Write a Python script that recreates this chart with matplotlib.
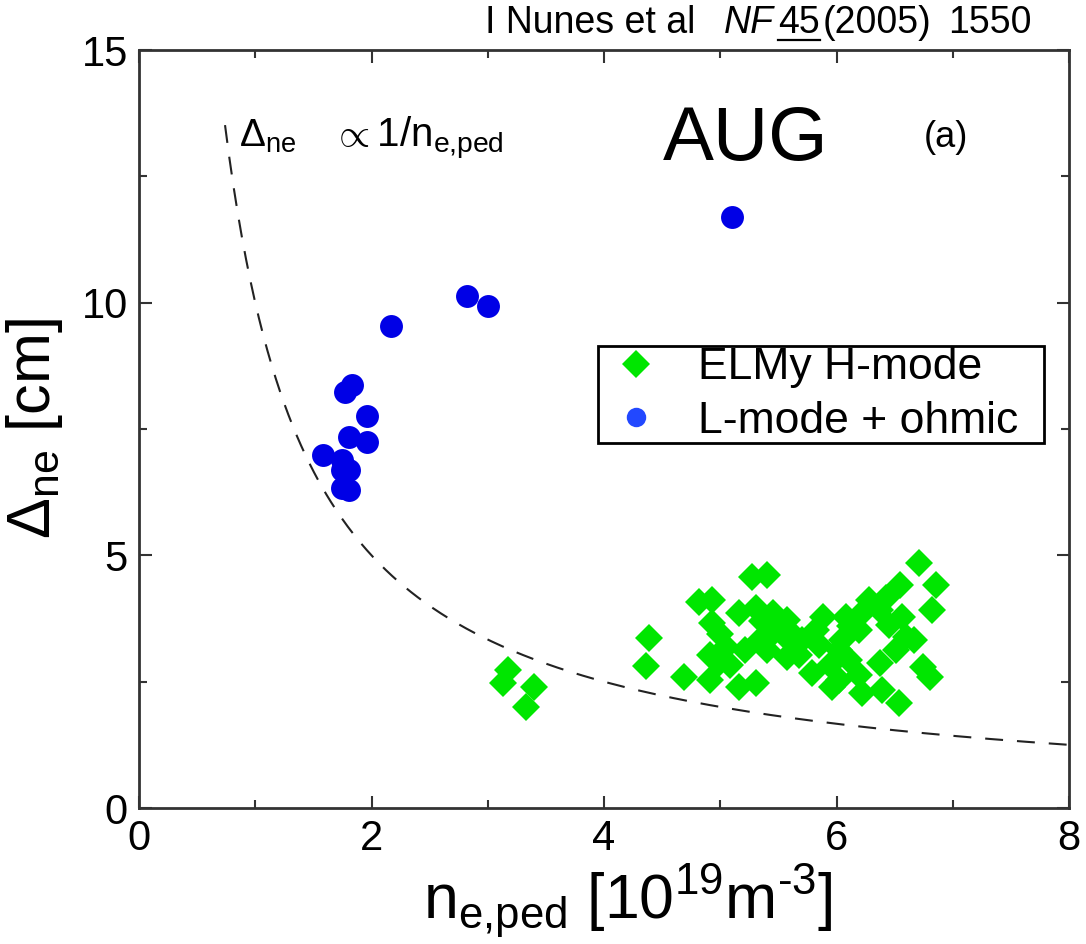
import numpy as np
import matplotlib
matplotlib.use("Agg")
import matplotlib.pyplot as plt
from matplotlib.lines import Line2D
from matplotlib.ticker import MultipleLocator

plt.rcParams['font.family'] = ['Liberation Sans', 'DejaVu Sans']
plt.rcParams['mathtext.fontset'] = 'custom'
plt.rcParams['mathtext.rm'] = 'Liberation Sans'
plt.rcParams['mathtext.it'] = 'Liberation Sans:italic'
plt.rcParams['mathtext.bf'] = 'Liberation Sans:bold'

# ELMy H-mode data (n_e,ped [1e19 m^-3], Delta_ne [cm])
x_h = [3.17, 3.13, 3.40, 3.33, 4.39, 4.36, 4.69, 4.82, 4.93, 4.93,
       5.27, 5.40, 5.16, 5.31, 5.45, 5.57, 4.91, 5.05, 4.99, 4.91,
       5.16, 5.31, 5.40, 5.57, 5.70, 5.82, 5.88, 5.79, 5.96, 6.02,
       6.71, 6.55, 6.86, 6.82, 6.08, 6.22, 6.37, 6.56, 6.60, 6.05,
       6.11, 6.37, 6.51, 6.74, 6.80, 6.22, 6.39, 6.54, 6.02, 5.59,
       5.68, 5.46, 5.34, 5.21, 5.08, 5.85, 6.19, 6.45, 6.67, 6.19,
       5.94, 6.28, 6.43, 5.36, 5.62, 6.12, 5.00]
y_h = [2.73, 2.48, 2.40, 2.00, 3.37, 2.81, 2.59, 4.08, 4.12, 3.66,
       4.57, 4.61, 3.86, 3.96, 3.86, 3.72, 3.03, 3.19, 2.87, 2.53,
       2.40, 2.48, 3.13, 2.99, 3.33, 3.52, 3.78, 2.67, 2.40, 3.13,
       4.85, 4.42, 4.42, 3.92, 3.78, 3.86, 3.92, 3.78, 3.39, 3.33,
       2.93, 2.87, 3.13, 2.79, 2.59, 2.28, 2.34, 2.08, 2.53, 3.33,
       3.03, 3.49, 3.33, 3.13, 2.83, 3.23, 3.52, 3.62, 3.33, 2.63,
       2.83, 4.12, 4.16, 3.70, 3.45, 3.60, 3.45]

# L-mode + ohmic data
x_l = [5.10, 2.82, 3.00, 2.17, 1.77, 1.83, 1.96, 1.81, 1.96, 1.58,
       1.75, 1.75, 1.81, 1.75, 1.81]
y_l = [11.70, 10.14, 9.94, 9.54, 8.24, 8.38, 7.76, 7.35, 7.25, 6.99,
       6.89, 6.69, 6.69, 6.34, 6.30]

# scaling curve Delta_ne = C / n_e,ped
curve_c = 10.0
curve_x0 = 0.74

x_ticks = [0, 2, 4, 6, 8]
y_ticks = [0, 5, 10, 15]

green = '#00e600'
blue = '#0000e6'
legend_blue = '#2248ff'

W, H = 1086, 944
fig = plt.figure(figsize=(W/100, H/100), dpi=100)
fig.patch.set_facecolor('white')
ax = fig.add_axes([139/W, 1-808/H, 930/W, 758/H])

xc = np.linspace(curve_x0, 8, 400)
ax.plot(xc, curve_c/xc, color='#222222', lw=1.5, dashes=(8.6, 6.7), zorder=1)

ax.plot(x_h, y_h, ls='none', marker='D', markersize=14.5, color=green,
        markeredgewidth=0, zorder=2)
ax.plot(x_l, y_l, ls='none', marker='o', markersize=16.5, color=blue,
        markeredgewidth=0, zorder=3)

ax.set_xlim(0, 8)
ax.set_ylim(0, 15)
ax.set_xticks(x_ticks)
ax.set_yticks(y_ticks)
ax.xaxis.set_minor_locator(MultipleLocator(1))
ax.yaxis.set_minor_locator(MultipleLocator(2.5))
ax.tick_params(which='both', direction='in', top=True, right=True,
               color='#333333', width=1.5)
ax.tick_params(which='major', length=9, labelsize=30, pad=8)
ax.tick_params(which='minor', length=6)
for s in ax.spines.values():
    s.set_linewidth(2)
    s.set_color('#333333')

ax.set_xlabel(r'n$_{\rm e{,}ped}$ [10$^{19}$m$^{\text{-3}}$]', fontsize=45)
ax.xaxis.set_label_coords(0.526, -0.1465, transform=ax.transAxes)
ax.xaxis.label.set_va('baseline')
ax.set_ylabel(r'$\Delta_{\rm ne}$ [cm]', fontsize=44, labelpad=12)

ax.text(0.652, 0.855, 'AUG', transform=ax.transAxes, fontsize=55,
        ha='center', va='baseline')
ax.text(0.868, 0.872, '(a)', transform=ax.transAxes, fontsize=26,
        ha='center', va='baseline')
ax.text(0.1075, 0.872, r'$\Delta_{\rm ne}$', transform=ax.transAxes,
        fontsize=28, ha='left', va='baseline')
ax.text(0.2075, 0.872, r'$\propto$1/n$_{\rm e{,}ped}$', transform=ax.transAxes,
        fontsize=29, ha='left', va='baseline')

# citation at top
yb = 1 - 33/H
fs_c = 27
fig.text(485/W, yb, 'I Nunes et al', fontsize=fs_c, va='baseline')
fig.text(724/W, yb, 'NF', fontsize=fs_c, va='baseline', style='italic')
t45 = fig.text(778/W, yb, '45', fontsize=fs_c, va='baseline')
fig.text(823/W, yb, '(2005)', fontsize=fs_c, va='baseline')
fig.text(1032/W, yb, '1550', fontsize=fs_c, va='baseline', ha='right')
fig.canvas.draw()
bb = t45.get_window_extent(fig.canvas.get_renderer())
fig.add_artist(Line2D([bb.x0/W, bb.x1/W], [1-40/H, 1-40/H],
                      color='black', lw=1.6, transform=fig.transFigure))

handles = [Line2D([], [], ls='none', marker='D', markersize=14.5, color=green,
                  markeredgewidth=0),
           Line2D([], [], ls='none', marker='o', markersize=14, color=legend_blue,
                  markeredgewidth=0)]
leg = ax.legend(handles, ['ELMy H-mode', 'L-mode + ohmic'],
                loc='upper left', bbox_to_anchor=(0.494, 0.488, 0.479, 0.121),
                mode='expand',
                fontsize=32, frameon=True, fancybox=False, framealpha=1,
                borderpad=0.02, handlelength=1.67, handletextpad=0.56,
                labelspacing=0.28, borderaxespad=0)
leg.get_frame().set_edgecolor('black')
leg.get_frame().set_linewidth(2)

fig.savefig('out.png', dpi=100)
